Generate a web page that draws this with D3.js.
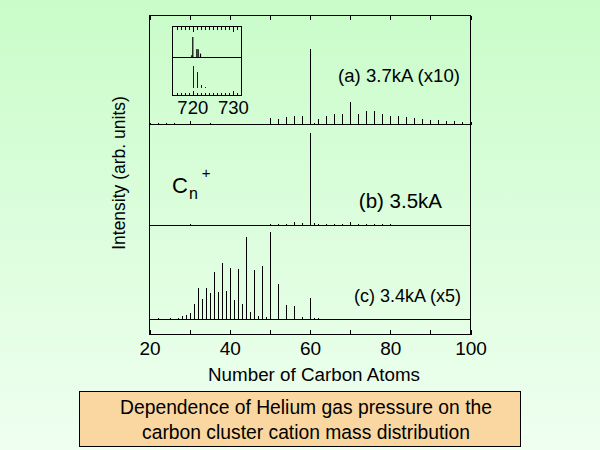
<!DOCTYPE html>
<html><head><meta charset="utf-8">
<script src="https://cdn.jsdelivr.net/npm/d3@7/dist/d3.min.js"></script>
<style>
html,body{margin:0;padding:0;background:#fff;}
svg{display:block;font-family:"Liberation Sans",Arial,sans-serif;}
</style></head><body>
<script>
// ---- data ----
const panelLabels = ["(a) 3.7kA (x10)", "(b) 3.5kA", "(c) 3.4kA (x5)"];
const xTicks = [20, 30, 40, 50, 60, 70, 80, 90, 100];
const xTickLabels = [20, 40, 60, 80, 100];

const sizesA = [20,21,22,23,24,25,26,30,35,40,45,48,50,51,52,53,54,55,56,57,58,59,60,61,62,63,64,65,66,67,68,69,70,71,72,73,74,75,76,77,78,79,80,81,82,83,84,85,86,87,88,89,90,91,92,93,94,95,96,97,98,99,100];
const intensA = [1.5,1.3,1.8,1.3,1.5,1.3,1.5,4.4,1.5,1.3,1.3,1.3,8.3,1.3,7.5,1.3,9.6,1.3,11.8,1.3,11.4,1.3,100,1.5,7.9,1.3,11.8,1.3,13.2,1.3,14,1.3,29.4,1.3,14,1.3,17.5,1.3,17.5,1.3,14.5,1.3,11.8,1.3,11,1.3,9.6,1.3,8.3,1.3,7.2,1.3,6.4,1.3,5.7,1.3,5,1.3,4.6,1.3,3.7,1.3,3.1];

const sizesB = [30,50,52,54,56,58,60,61,62,64,66,68,70,72,74,76,78,80];
const intensB = [1.4,1.4,1.1,1.8,4.3,2.5,100,2.5,1.1,1.4,1.4,1.4,4.3,1.1,1.1,1.1,1.1,1.1];

const sizesC = [20,21,22,23,24,25,26,27,28,29,30,31,32,33,34,35,36,37,38,39,40,41,42,43,44,45,46,47,48,49,50,51,52,53,54,55,56,57,58,59,60,61,62,64,66,68];
const intensC = [1,0.8,1.5,0.8,1,1.5,1,1.5,3.8,4.6,6.9,17.6,36.3,23.7,36.3,30.5,54.2,31.7,64.9,32.4,58.8,22.1,58,17.9,94.3,8.4,56.9,3.8,61.1,2.7,100,1.1,40.5,1.1,16.4,0.8,15.3,0.8,2.3,0.8,24.4,1.5,1.5,1.1,0.8,0.8];

// inset: C60+ isotope region (mass, amu)
const insetMeasMass = [719.75, 720, 721, 721.33, 721.9];
const insetMeasInt  = [11, 100, 42, 40, 19];
const insetCalcMass = [720, 721, 722, 723];
const insetCalcInt  = [100, 71, 12, 3];
const insetTickLabels = [720, 730];

const xTitle = "Number of Carbon Atoms";
const yTitle = "Intensity (arb. units)";
const cnLabel = {base: "C", sub: "n", sup: "+"};
const caption = ["Dependence of Helium gas pressure on the", "carbon cluster cation mass distribution"];

// ---- layout ----
const W = 600, H = 450;
const L = 149.5, R = 470.5, T = 15.5, B = 334.5;
const baseA = 124.5, baseB = 225.5, baseC = 319.5;

const svg = d3.select("body").append("svg").attr("width", W).attr("height", H);
const defs = svg.append("defs");
const grad = defs.append("linearGradient").attr("id","bg").attr("x1",0).attr("y1",0).attr("x2",0).attr("y2",1);
grad.append("stop").attr("offset","0%").attr("stop-color","#c9fcc9");
grad.append("stop").attr("offset","100%").attr("stop-color","#effff0");
svg.append("rect").attr("width",W).attr("height",H).attr("fill","url(#bg)");

const x = d3.scaleLinear().domain([20,100]).range([L, R]);
const yA = d3.scaleLinear().domain([0, 143.7]).range([baseA, T]);
const yB = d3.scaleLinear().domain([0, 109.5]).range([baseB, baseA]);
const yC = d3.scaleLinear().domain([0, 107.4]).range([baseC, baseB]);

const g = svg.append("g");
function spikes(sizes, ints, y, color) {
  g.append("g").selectAll("line").data(sizes.map((s,i)=>({s, v: ints[i]}))).join("line")
    .attr("x1", d => Math.round(x(d.s)) + 0.5).attr("x2", d => Math.round(x(d.s)) + 0.5)
    .attr("y1", y(0)).attr("y2", d => y(d.v))
    .attr("stroke", color).attr("stroke-width", 1).attr("shape-rendering","crispEdges");
}
spikes(sizesA, intensA, yA, "#000");
spikes(sizesB, intensB, yB, "#000");
spikes(sizesC, intensC, yC, "#000");

// frame & separators
const frame = svg.append("g").attr("stroke","#000").attr("fill","none").attr("shape-rendering","crispEdges");
frame.append("rect").attr("x",L).attr("y",T).attr("width",R-L).attr("height",B-T).attr("stroke-width",1.2);
[baseA, baseB, baseC].forEach(b => frame.append("line").attr("x1",L).attr("x2",R).attr("y1",b).attr("y2",b));

// axes (ticks inward)
const axB = svg.append("g").attr("transform",`translate(0,${B})`)
  .call(d3.axisBottom(x).tickValues(xTicks).tickSizeInner(-4.5).tickSizeOuter(0).tickPadding(7.5)
    .tickFormat(d => xTickLabels.includes(d) ? d : ""));
axB.select(".domain").remove();
axB.selectAll("line").attr("shape-rendering","crispEdges");
axB.selectAll("text").attr("font-size", 19).attr("fill","#000").attr("font-family","Liberation Sans, Arial, sans-serif");
const axT = svg.append("g").attr("transform",`translate(0,${T})`)
  .call(d3.axisBottom(x).tickValues(xTicks).tickSizeInner(4.5).tickSizeOuter(0).tickFormat(""));
axT.select(".domain").remove();
axT.selectAll("line").attr("shape-rendering","crispEdges");

// titles
svg.append("text").attr("x", (L+R)/2 + 4).attr("y", 381).attr("text-anchor","middle")
  .attr("font-size", 18.8).text(xTitle);
svg.append("text").attr("transform",`translate(125,${(T+B)/2 - 2}) rotate(-90)`).attr("text-anchor","middle")
  .attr("font-size", 17.5).text(yTitle);

// panel labels
const labPos = [[460, 82, 18.6], [442, 208, 20.5], [461, 302, 18]];
panelLabels.forEach((t,i) => svg.append("text").attr("x", labPos[i][0]).attr("y", labPos[i][1])
  .attr("text-anchor","end").attr("font-size", labPos[i][2]).text(t));

// Cn+
const cn = svg.append("text").attr("x", 172).attr("y", 193).attr("font-size", 22);
cn.append("tspan").text(cnLabel.base);
cn.append("tspan").attr("font-size", 16).attr("dy", 6).attr("dx", 1).text(cnLabel.sub);
cn.append("tspan").attr("font-size", 15).attr("dy", -21).attr("dx", 4).text(cnLabel.sup);

// inset
const iL = 172.5, iR = 241.5, iT = 26.5, iB = 95.5, iM = 57.5;
const xi = d3.scaleLinear().domain([715, 732]).range([iL, iR]);
const yiU = d3.scaleLinear().domain([0, 151]).range([iM, iT]);
const yiL = d3.scaleLinear().domain([-33.6, 139]).range([iB, iM]);
const inset = svg.append("g");
inset.append("g").selectAll("line").data(insetMeasMass.map((m,i)=>({m, v: insetMeasInt[i]}))).join("line")
  .attr("x1", d => xi(d.m)).attr("x2", d => xi(d.m)).attr("y1", yiU(0)).attr("y2", d => yiU(d.v))
  .attr("stroke","#000").attr("stroke-width",1.2);
inset.append("g").selectAll("line").data(insetCalcMass.map((m,i)=>({m, v: insetCalcInt[i]}))).join("line")
  .attr("x1", d => Math.round(xi(d.m))+0.5).attr("x2", d => Math.round(xi(d.m))+0.5).attr("y1", yiL(0)).attr("y2", d => yiL(d.v))
  .attr("stroke","#0000ff").attr("stroke-width",1).attr("shape-rendering","crispEdges");
const iTicks = d3.range(716, 732);
[[iT, 1], [iB, -1]].forEach(([yy, dir]) => {
  inset.append("g").selectAll("line").data(iTicks).join("line")
    .attr("x1", d => Math.round(xi(d))+0.5).attr("x2", d => Math.round(xi(d))+0.5)
    .attr("y1", yy).attr("y2", d => yy + dir * (insetTickLabels.includes(d) ? 5 : 3))
    .attr("stroke","#000").attr("shape-rendering","crispEdges");
});
inset.append("rect").attr("x",iL).attr("y",iT).attr("width",iR-iL).attr("height",iB-iT)
  .attr("fill","none").attr("stroke","#000").attr("shape-rendering","crispEdges");
inset.append("line").attr("x1",iL).attr("x2",iR).attr("y1",iM).attr("y2",iM).attr("stroke","#000").attr("shape-rendering","crispEdges");
insetTickLabels.forEach(v => inset.append("text").attr("x", xi(v)).attr("y", 114)
  .attr("text-anchor","middle").attr("font-size", 18.5).text(v));

// caption box
svg.append("rect").attr("x", 79.5).attr("y", 391.5).attr("width", 441).attr("height", 55)
  .attr("fill","#fad7a0").attr("stroke","#000").attr("stroke-width",1).attr("shape-rendering","crispEdges");
caption.forEach((t,i) => svg.append("text").attr("x", 306).attr("y", 414 + i*25).attr("text-anchor","middle")
  .attr("font-size", 19.3).text(t));
</script>
</body></html>
